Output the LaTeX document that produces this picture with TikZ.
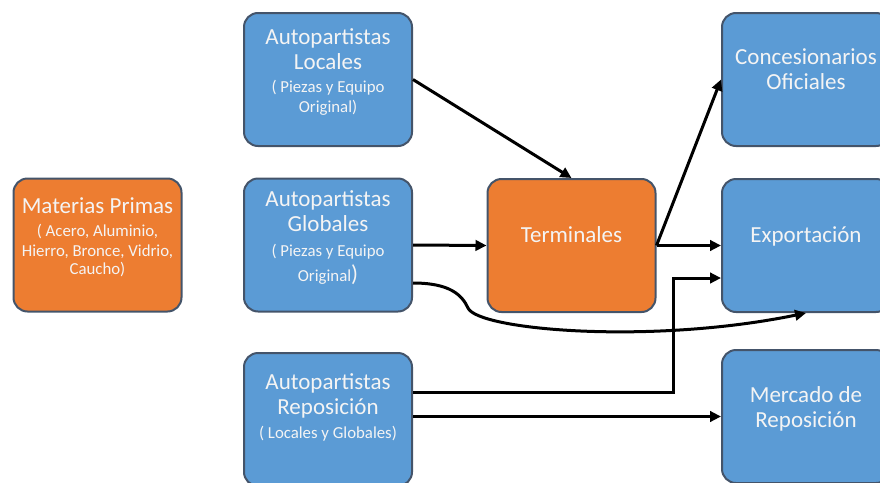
\documentclass[tikz,border=0pt]{standalone}
\usepackage{fontspec}
\setmainfont{Carlito}
\usetikzlibrary{arrows.meta,calc}
\definecolor{bluef}{HTML}{5B9BD5}
\definecolor{orangef}{HTML}{ED7D31}
\definecolor{edgec}{HTML}{44546A}
\definecolor{txtc}{HTML}{F4F4F4}
\newcommand\ttlf{\fontsize{23}{25}\selectfont}
\newcommand\sbtf{\fontsize{16.8}{20}\selectfont}
\begin{document}
\begin{tikzpicture}[x=1pt,y=-1pt,
  box/.style={draw=edgec,line width=2pt,rounded corners=14pt,minimum width=168pt,minimum height=133pt,inner sep=0pt},
  bbox/.style={box,fill=bluef},
  obox/.style={box,fill=orangef},
  lbl/.style={text=txtc,align=center,anchor=base,inner sep=0pt,font=\ttlf},
  arr/.style={line width=3pt,-{Triangle[length=11pt,width=10.5pt]}}]
\useasboundingbox (0,0) rectangle (880,482);
\clip (0,0) rectangle (880,482);
% boxes
\node[obox] (mp) at (97.5,245) {};
\node[bbox] (loc) at (328,79.5) {};
\node[bbox] (glob) at (328,245) {};
\node[bbox] (rep) at (328,419.5) {};
\node[obox] (term) at (571.5,245.5) {};
\node[bbox] (conc) at (806,79.5) {};
\node[bbox] (exp) at (806,245.5) {};
\node[bbox] (merc) at (806,416.5) {};
% texts (anchor = baseline of the last line)
\node[lbl] (mpT) at (97.5,274.5) {Materias Primas\\[-2pt]{\sbtf ( Acero, Aluminio,}\\[-5pt]{\sbtf Hierro, Bronce, Vidrio,}\\[-7pt]{\sbtf Caucho)}};
\node[lbl] (locT) at (328,112) {Autopartistas\\Locales\\[-2pt]{\sbtf ( Piezas y Equipo}\\[-5pt]{\sbtf Original)}};
\node[lbl] (globT) at (328,281) {Autopartistas\\Globales\\{\sbtf ( Piezas y Equipo}\\{\sbtf Original{\ttlf)}}};
\node[lbl] (repT) at (328,438) {Autopartistas\\Reposición\\[-1pt]{\sbtf ( Locales y Globales)}};
\node[lbl] (termT) at (571.5,242.5) {Terminales};
\node[lbl] (concT) at (806,89.3) {Concesionarios\\Oficiales};
\node[lbl] (expT) at (806,242.5) {Exportación};
\node[lbl] (mercT) at (806,427) {Mercado de\\Reposición};
% connectors
\draw[arr] (loc.east) -- (term.north);
\draw[arr] (glob.east) -- (term.west);
\draw[arr] (term.east) -- (exp.west);
\draw[arr] (term.east) -- (conc.west);
\draw[arr] ([yshift=-38pt]glob.east) .. controls +(37pt,0) and (462,295) .. (468,308)
  .. controls (478,330) and (650,345) .. (exp.south);
\draw[arr] ([yshift=27.5pt]rep.east) -| ([xshift=-48pt,yshift=-32.5pt]exp.west) -- ([yshift=-32.5pt]exp.west);
\draw[arr] (rep.east |- merc.west) -- (merc.west);
\end{tikzpicture}
\end{document}
